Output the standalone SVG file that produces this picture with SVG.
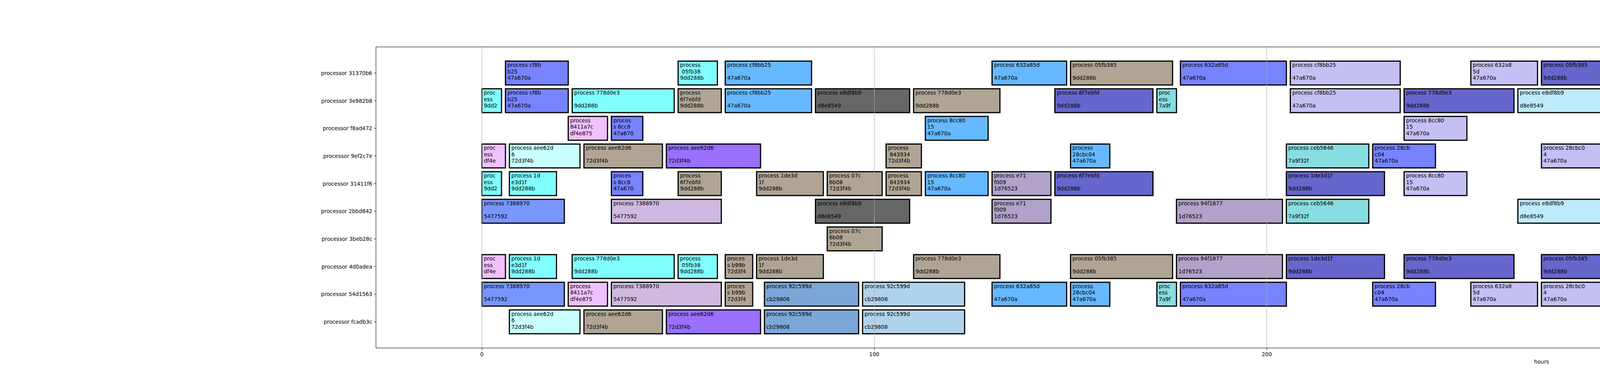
<svg xmlns="http://www.w3.org/2000/svg" width="7700" height="1000" viewBox="0 0 7700 1000">
<style>
text{font-family:"DejaVu Sans","Liberation Sans",sans-serif;font-size:13.6px;fill:#000}
.b{stroke:#000;stroke-width:3}
.cy{fill:#80ffff}.lc{fill:#c8ffff}.pk{fill:#f0c0ff}.pw{fill:#7783ff}.pb{fill:#7896ff}
.sk{fill:#66b8ff}.tn{fill:#b0a595}.dg{fill:#666666}.sl{fill:#6666cc}.tl{fill:#88dde0}
.pu{fill:#9970ff}.lg{fill:#b0a2c8}.th{fill:#d0b9e0}.lv{fill:#c4c0f4}.lb{fill:#beebfc}
.bl{fill:#7a8ef0}.pl{fill:#e0c0e0}.st{fill:#7ba7d8}.ls{fill:#b0d3ec}
.yl{text-anchor:end}.xl{text-anchor:middle}
.grid line{stroke:#b0b0b0;stroke-width:1.1}
.tick line{stroke:#000;stroke-width:1.1}
</style>
<rect width="7700" height="1000" fill="#fff"/>
<rect x="962.5" y="120" width="5967.5" height="770" fill="#fff"/>

<g id="row0" transform="translate(0,186.8)">
<g id="r0b1" transform="translate(1294.0,0)"><rect class="b pw" y="-30.5" width="160.7" height="61"/><text x="5" y="-15.5">process cf8b<tspan x="5" y="1">b25</tspan><tspan x="5" y="17.5">47a670a</tspan></text></g>
<g id="r0b2" transform="translate(1736.0,0)"><rect class="b cy" y="-30.5" width="100.5" height="61"/><text x="5" y="-15.5">process<tspan x="5" y="1">&#160;05fb38</tspan><tspan x="5" y="17.5">9dd288b</tspan></text></g>
<g id="r0b3" transform="translate(1856.6,0)"><rect class="b sk" y="-30.5" width="221.0" height="61"/><text x="5" y="-15.5">process cf8bb25<tspan x="5" y="17.5">47a670a</tspan></text></g>
<g id="r0b4" transform="translate(2539.7,0)"><rect class="b sk" y="-30.5" width="190.9" height="61"/><text x="5" y="-15.5">process 632a85d<tspan x="5" y="17.5">47a670a</tspan></text></g>
<g id="r0b5" transform="translate(2740.6,0)"><rect class="b tn" y="-30.5" width="261.2" height="61"/><text x="5" y="-15.5">process 05fb385<tspan x="5" y="17.5">9dd288b</tspan></text></g>
<g id="r0b6" transform="translate(3021.9,0)"><rect class="b pw" y="-30.5" width="271.2" height="61"/><text x="5" y="-15.5">process 632a85d<tspan x="5" y="17.5">47a670a</tspan></text></g>
<g id="r0b7" transform="translate(3303.2,0)"><rect class="b lv" y="-30.5" width="281.3" height="61"/><text x="5" y="-15.5">process cf8bb25<tspan x="5" y="17.5">47a670a</tspan></text></g>
<g id="r0b8" transform="translate(3765.3,0)"><rect class="b lv" y="-30.5" width="170.8" height="61"/><text x="5" y="-15.5">process 632a8<tspan x="5" y="1">5d</tspan><tspan x="5" y="17.5">47a670a</tspan></text></g>
<g id="r0b9" transform="translate(3946.1,0)"><rect class="b sl" y="-30.5" width="190.9" height="61"/><text x="5" y="-15.5">process 05fb385<tspan x="5" y="17.5">9dd288b</tspan></text></g>
<g id="r0b10" transform="translate(4147.0,0)"><rect class="b lb" y="-30.5" width="80.4" height="61"/><text x="5" y="-15.5">proces<tspan x="5" y="1">s afe0</tspan><tspan x="5" y="17.5">d8e854</tspan></text></g>
<g id="r0b11" transform="translate(4237.5,0)"><rect class="b tl" y="-30.5" width="271.2" height="61"/><text x="5" y="-15.5">process c97a152<tspan x="5" y="17.5">7a9f32f</tspan></text></g>
<g id="r0b12" transform="translate(4729.7,0)"><rect class="b lb" y="-30.5" width="180.8" height="61"/><text x="5" y="-15.5">process 5e7ca2<tspan x="5" y="1">0</tspan><tspan x="5" y="17.5">d8e8549</tspan></text></g>
<g id="r0b13" transform="translate(4920.6,0)"><rect class="b lb" y="-30.5" width="70.3" height="61"/><text x="5" y="-15.5">proces<tspan x="5" y="1">s 03ac</tspan><tspan x="5" y="17.5">d8e854</tspan></text></g>
<g id="r0b14" transform="translate(5031.1,0)"><rect class="b dg" y="-30.5" width="221.0" height="61"/><text x="5" y="-15.5">process afe0374<tspan x="5" y="17.5">d8e8549</tspan></text></g>
<g id="r0b15" transform="translate(5412.8,0)"><rect class="b dg" y="-30.5" width="110.5" height="61"/><text x="5" y="-15.5">process<tspan x="5" y="1">5e7ca20</tspan><tspan x="5" y="17.5">d8e8549</tspan></text></g>
<g id="r0b16" transform="translate(5533.4,0)"><rect class="b dg" y="-30.5" width="241.1" height="61"/><text x="5" y="-15.5">process 03ac337<tspan x="5" y="17.5">d8e8549</tspan></text></g>
</g>

<g id="row1" transform="translate(0,257.5)">
<g id="r1b1" transform="translate(1233.7,0)"><rect class="b cy" y="-30.5" width="50.2" height="61"/><text x="5" y="-15.5">proc<tspan x="5" y="1">ess</tspan><tspan x="5" y="17.5">9dd2</tspan></text></g>
<g id="r1b2" transform="translate(1294.0,0)"><rect class="b pw" y="-30.5" width="160.7" height="61"/><text x="5" y="-15.5">process cf8b<tspan x="5" y="1">b25</tspan><tspan x="5" y="17.5">47a670a</tspan></text></g>
<g id="r1b3" transform="translate(1464.8,0)"><rect class="b cy" y="-30.5" width="261.2" height="61"/><text x="5" y="-15.5">process 778d0e3<tspan x="5" y="17.5">9dd288b</tspan></text></g>
<g id="r1b4" transform="translate(1736.0,0)"><rect class="b tn" y="-30.5" width="110.5" height="61"/><text x="5" y="-15.5">process<tspan x="5" y="1">6f7ebfd</tspan><tspan x="5" y="17.5">9dd288b</tspan></text></g>
<g id="r1b5" transform="translate(1856.6,0)"><rect class="b sk" y="-30.5" width="221.0" height="61"/><text x="5" y="-15.5">process cf8bb25<tspan x="5" y="17.5">47a670a</tspan></text></g>
<g id="r1b6" transform="translate(2087.6,0)"><rect class="b dg" y="-30.5" width="241.1" height="61"/><text x="5" y="-15.5">process e8df8b9<tspan x="5" y="17.5">d8e8549</tspan></text></g>
<g id="r1b7" transform="translate(2338.8,0)"><rect class="b tn" y="-30.5" width="221.0" height="61"/><text x="5" y="-15.5">process 778d0e3<tspan x="5" y="17.5">9dd288b</tspan></text></g>
<g id="r1b8" transform="translate(2700.4,0)"><rect class="b sl" y="-30.5" width="251.2" height="61"/><text x="5" y="-15.5">process 6f7ebfd<tspan x="5" y="17.5">9dd288b</tspan></text></g>
<g id="r1b9" transform="translate(2961.6,0)"><rect class="b tl" y="-30.5" width="50.2" height="61"/><text x="5" y="-15.5">proc<tspan x="5" y="1">ess</tspan><tspan x="5" y="17.5">7a9f</tspan></text></g>
<g id="r1b10" transform="translate(3303.2,0)"><rect class="b lv" y="-30.5" width="281.3" height="61"/><text x="5" y="-15.5">process cf8bb25<tspan x="5" y="17.5">47a670a</tspan></text></g>
<g id="r1b11" transform="translate(3594.5,0)"><rect class="b sl" y="-30.5" width="281.3" height="61"/><text x="5" y="-15.5">process 778d0e3<tspan x="5" y="17.5">9dd288b</tspan></text></g>
<g id="r1b12" transform="translate(3885.8,0)"><rect class="b lb" y="-30.5" width="241.1" height="61"/><text x="5" y="-15.5">process e8df8b9<tspan x="5" y="17.5">d8e8549</tspan></text></g>
<g id="r1b13" transform="translate(4137.0,0)"><rect class="b bl" y="-30.5" width="281.3" height="61"/><text x="5" y="-15.5">process 6bbf584<tspan x="5" y="17.5">6b3ecd9</tspan></text></g>
<g id="r1b14" transform="translate(4428.3,0)"><rect class="b pl" y="-30.5" width="291.3" height="61"/><text x="5" y="-15.5">process 6bbf584<tspan x="5" y="17.5">6b3ecd9</tspan></text></g>
<g id="r1b15" transform="translate(4920.6,0)"><rect class="b lb" y="-30.5" width="70.3" height="61"/><text x="5" y="-15.5">proces<tspan x="5" y="1">s 03ac</tspan><tspan x="5" y="17.5">d8e854</tspan></text></g>
<g id="r1b16" transform="translate(5533.4,0)"><rect class="b dg" y="-30.5" width="241.1" height="61"/><text x="5" y="-15.5">process 03ac337<tspan x="5" y="17.5">d8e8549</tspan></text></g>
</g>

<g id="row2" transform="translate(0,328.2)">
<g id="r2b1" transform="translate(1454.7,0)"><rect class="b pk" y="-30.5" width="100.5" height="61"/><text x="5" y="-15.5">process<tspan x="5" y="1">8411a7c</tspan><tspan x="5" y="17.5">df4e875</tspan></text></g>
<g id="r2b2" transform="translate(1565.2,0)"><rect class="b pw" y="-30.5" width="80.4" height="61"/><text x="5" y="-15.5">proces<tspan x="5" y="1">s 8cc8</tspan><tspan x="5" y="17.5">47a670</tspan></text></g>
<g id="r2b3" transform="translate(2368.9,0)"><rect class="b sk" y="-30.5" width="160.7" height="61"/><text x="5" y="-15.5">process 8cc80<tspan x="5" y="1">15</tspan><tspan x="5" y="17.5">47a670a</tspan></text></g>
<g id="r2b4" transform="translate(3594.5,0)"><rect class="b lv" y="-30.5" width="160.7" height="61"/><text x="5" y="-15.5">process 8cc80<tspan x="5" y="1">15</tspan><tspan x="5" y="17.5">47a670a</tspan></text></g>
<g id="r2b5" transform="translate(5031.1,0)"><rect class="b tl" y="-30.5" width="200.9" height="61"/><text x="5" y="-15.5">process 2b3a503<tspan x="5" y="17.5">7a9f32f</tspan></text></g>
</g>

<g id="row3" transform="translate(0,398.9)">
<g id="r3b1" transform="translate(1233.7,0)"><rect class="b pk" y="-30.5" width="60.3" height="61"/><text x="5" y="-15.5">proc<tspan x="5" y="1">ess</tspan><tspan x="5" y="17.5">df4e</tspan></text></g>
<g id="r3b2" transform="translate(1304.0,0)"><rect class="b lc" y="-30.5" width="180.8" height="61"/><text x="5" y="-15.5">process aee62d<tspan x="5" y="1">6</tspan><tspan x="5" y="17.5">72d3f4b</tspan></text></g>
<g id="r3b3" transform="translate(1494.9,0)"><rect class="b tn" y="-30.5" width="200.9" height="61"/><text x="5" y="-15.5">process aee62d6<tspan x="5" y="17.5">72d3f4b</tspan></text></g>
<g id="r3b4" transform="translate(1705.9,0)"><rect class="b pu" y="-30.5" width="241.1" height="61"/><text x="5" y="-15.5">process aee62d6<tspan x="5" y="17.5">72d3f4b</tspan></text></g>
<g id="r3b5" transform="translate(2268.4,0)"><rect class="b tn" y="-30.5" width="90.4" height="61"/><text x="5" y="-15.5">process<tspan x="5" y="1">&#160;843934</tspan><tspan x="5" y="17.5">72d3f4b</tspan></text></g>
<g id="r3b6" transform="translate(2740.6,0)"><rect class="b sk" y="-30.5" width="100.5" height="61"/><text x="5" y="-15.5">process<tspan x="5" y="1">28cbc04</tspan><tspan x="5" y="17.5">47a670a</tspan></text></g>
<g id="r3b7" transform="translate(3293.1,0)"><rect class="b tl" y="-30.5" width="211.0" height="61"/><text x="5" y="-15.5">process ceb5646<tspan x="5" y="17.5">7a9f32f</tspan></text></g>
<g id="r3b8" transform="translate(3514.1,0)"><rect class="b pw" y="-30.5" width="160.7" height="61"/><text x="5" y="-15.5">process 28cb<tspan x="5" y="1">c04</tspan><tspan x="5" y="17.5">47a670a</tspan></text></g>
<g id="r3b9" transform="translate(3946.1,0)"><rect class="b lv" y="-30.5" width="180.8" height="61"/><text x="5" y="-15.5">process 28cbc0<tspan x="5" y="1">4</tspan><tspan x="5" y="17.5">47a670a</tspan></text></g>
<g id="r3b10" transform="translate(4237.5,0)"><rect class="b lb" y="-30.5" width="190.9" height="61"/><text x="5" y="-15.5">process 614eb89<tspan x="5" y="17.5">d8e8549</tspan></text></g>
<g id="r3b11" transform="translate(5262.1,0)"><rect class="b dg" y="-30.5" width="140.6" height="61"/><text x="5" y="-15.5">process 614<tspan x="5" y="1">eb89</tspan><tspan x="5" y="17.5">d8e8549</tspan></text></g>
<g id="r3b12" transform="translate(5412.8,0)"><rect class="b lc" y="-30.5" width="271.2" height="61"/><text x="5" y="-15.5">process 8439341<tspan x="5" y="17.5">72d3f4b</tspan></text></g>
<g id="r3b13" transform="translate(5824.7,0)"><rect class="b pu" y="-30.5" width="271.2" height="61"/><text x="5" y="-15.5">process 8439341<tspan x="5" y="17.5">72d3f4b</tspan></text></g>
</g>

<g id="row4" transform="translate(0,469.6)">
<g id="r4b1" transform="translate(1233.7,0)"><rect class="b cy" y="-30.5" width="50.2" height="61"/><text x="5" y="-15.5">proc<tspan x="5" y="1">ess</tspan><tspan x="5" y="17.5">9dd2</tspan></text></g>
<g id="r4b2" transform="translate(1304.0,0)"><rect class="b cy" y="-30.5" width="120.6" height="61"/><text x="5" y="-15.5">process 1d<tspan x="5" y="1">e3d1f</tspan><tspan x="5" y="17.5">9dd288b</tspan></text></g>
<g id="r4b3" transform="translate(1565.2,0)"><rect class="b pw" y="-30.5" width="80.4" height="61"/><text x="5" y="-15.5">proces<tspan x="5" y="1">s 8cc8</tspan><tspan x="5" y="17.5">47a670</tspan></text></g>
<g id="r4b4" transform="translate(1736.0,0)"><rect class="b tn" y="-30.5" width="110.5" height="61"/><text x="5" y="-15.5">process<tspan x="5" y="1">6f7ebfd</tspan><tspan x="5" y="17.5">9dd288b</tspan></text></g>
<g id="r4b5" transform="translate(1936.9,0)"><rect class="b tn" y="-30.5" width="170.8" height="61"/><text x="5" y="-15.5">process 1de3d<tspan x="5" y="1">1f</tspan><tspan x="5" y="17.5">9dd288b</tspan></text></g>
<g id="r4b6" transform="translate(2117.7,0)"><rect class="b tn" y="-30.5" width="140.6" height="61"/><text x="5" y="-15.5">process 07c<tspan x="5" y="1">6b08</tspan><tspan x="5" y="17.5">72d3f4b</tspan></text></g>
<g id="r4b7" transform="translate(2268.4,0)"><rect class="b tn" y="-30.5" width="90.4" height="61"/><text x="5" y="-15.5">process<tspan x="5" y="1">&#160;843934</tspan><tspan x="5" y="17.5">72d3f4b</tspan></text></g>
<g id="r4b8" transform="translate(2368.9,0)"><rect class="b sk" y="-30.5" width="160.7" height="61"/><text x="5" y="-15.5">process 8cc80<tspan x="5" y="1">15</tspan><tspan x="5" y="17.5">47a670a</tspan></text></g>
<g id="r4b9" transform="translate(2539.7,0)"><rect class="b lg" y="-30.5" width="150.7" height="61"/><text x="5" y="-15.5">process e71<tspan x="5" y="1">f009</tspan><tspan x="5" y="17.5">1d76523</tspan></text></g>
<g id="r4b10" transform="translate(2700.4,0)"><rect class="b sl" y="-30.5" width="251.2" height="61"/><text x="5" y="-15.5">process 6f7ebfd<tspan x="5" y="17.5">9dd288b</tspan></text></g>
<g id="r4b11" transform="translate(3293.1,0)"><rect class="b sl" y="-30.5" width="251.2" height="61"/><text x="5" y="-15.5">process 1de3d1f<tspan x="5" y="17.5">9dd288b</tspan></text></g>
<g id="r4b12" transform="translate(3594.5,0)"><rect class="b lv" y="-30.5" width="160.7" height="61"/><text x="5" y="-15.5">process 8cc80<tspan x="5" y="1">15</tspan><tspan x="5" y="17.5">47a670a</tspan></text></g>
<g id="r4b13" transform="translate(4237.5,0)"><rect class="b tl" y="-30.5" width="271.2" height="61"/><text x="5" y="-15.5">process c97a152<tspan x="5" y="17.5">7a9f32f</tspan></text></g>
<g id="r4b14" transform="translate(5031.1,0)"><rect class="b lc" y="-30.5" width="251.2" height="61"/><text x="5" y="-15.5">process 07c6b08<tspan x="5" y="17.5">72d3f4b</tspan></text></g>
<g id="r4b15" transform="translate(5412.8,0)"><rect class="b lc" y="-30.5" width="271.2" height="61"/><text x="5" y="-15.5">process 8439341<tspan x="5" y="17.5">72d3f4b</tspan></text></g>
<g id="r4b16" transform="translate(5744.4,0)"><rect class="b pu" y="-30.5" width="70.3" height="61"/><text x="5" y="-15.5">proce<tspan x="5" y="1">ss 07</tspan><tspan x="5" y="17.5">72d3f</tspan></text></g>
<g id="r4b17" transform="translate(5824.7,0)"><rect class="b pu" y="-30.5" width="271.2" height="61"/><text x="5" y="-15.5">process 8439341<tspan x="5" y="17.5">72d3f4b</tspan></text></g>
<g id="r4b18" transform="translate(6106.0,0)"><rect class="b st" y="-30.5" width="271.2" height="61"/><text x="5" y="-15.5">process 2a43540<tspan x="5" y="17.5">cb29808</tspan></text></g>
<g id="r4b19" transform="translate(6387.3,0)"><rect class="b ls" y="-30.5" width="271.2" height="61"/><text x="5" y="-15.5">process 2a43540<tspan x="5" y="17.5">cb29808</tspan></text></g>
</g>

<g id="row5" transform="translate(0,540.3)">
<g id="r5b1" transform="translate(1233.7,0)"><rect class="b pb" y="-30.5" width="211.0" height="61"/><text x="5" y="-15.5">process 7388970<tspan x="5" y="17.5">5477592</tspan></text></g>
<g id="r5b2" transform="translate(1565.2,0)"><rect class="b th" y="-30.5" width="281.3" height="61"/><text x="5" y="-15.5">process 7388970<tspan x="5" y="17.5">5477592</tspan></text></g>
<g id="r5b3" transform="translate(2087.6,0)"><rect class="b dg" y="-30.5" width="241.1" height="61"/><text x="5" y="-15.5">process e8df8b9<tspan x="5" y="17.5">d8e8549</tspan></text></g>
<g id="r5b4" transform="translate(2539.7,0)"><rect class="b lg" y="-30.5" width="150.7" height="61"/><text x="5" y="-15.5">process e71<tspan x="5" y="1">f009</tspan><tspan x="5" y="17.5">1d76523</tspan></text></g>
<g id="r5b5" transform="translate(3011.8,0)"><rect class="b lg" y="-30.5" width="271.2" height="61"/><text x="5" y="-15.5">process 94f1877<tspan x="5" y="17.5">1d76523</tspan></text></g>
<g id="r5b6" transform="translate(3293.1,0)"><rect class="b tl" y="-30.5" width="211.0" height="61"/><text x="5" y="-15.5">process ceb5646<tspan x="5" y="17.5">7a9f32f</tspan></text></g>
<g id="r5b7" transform="translate(3885.8,0)"><rect class="b lb" y="-30.5" width="241.1" height="61"/><text x="5" y="-15.5">process e8df8b9<tspan x="5" y="17.5">d8e8549</tspan></text></g>
<g id="r5b8" transform="translate(4589.1,0)"><rect class="b st" y="-30.5" width="60.3" height="61"/><text x="5" y="-15.5">proce<tspan x="5" y="1">ss ae</tspan><tspan x="5" y="17.5">cb298</tspan></text></g>
<g id="r5b9" transform="translate(4749.8,0)"><rect class="b ls" y="-30.5" width="190.9" height="61"/><text x="5" y="-15.5">process ae8bbd<tspan x="5" y="1">f</tspan><tspan x="5" y="17.5">cb29808</tspan></text></g>
</g>

<g id="row6" transform="translate(0,611.0)">
<g id="r6b1" transform="translate(2117.7,0)"><rect class="b tn" y="-30.5" width="140.6" height="61"/><text x="5" y="-15.5">process 07c<tspan x="5" y="1">6b08</tspan><tspan x="5" y="17.5">72d3f4b</tspan></text></g>
<g id="r6b2" transform="translate(4438.4,0)"><rect class="b st" y="-30.5" width="140.6" height="61"/><text x="5" y="-15.5">process f1d<tspan x="5" y="1">36a9</tspan><tspan x="5" y="17.5">cb29808</tspan></text></g>
<g id="r6b3" transform="translate(4589.1,0)"><rect class="b ls" y="-30.5" width="150.7" height="61"/><text x="5" y="-15.5">process f1d3<tspan x="5" y="1">6a9</tspan><tspan x="5" y="17.5">cb29808</tspan></text></g>
<g id="r6b4" transform="translate(5031.1,0)"><rect class="b lc" y="-30.5" width="251.2" height="61"/><text x="5" y="-15.5">process 07c6b08<tspan x="5" y="17.5">72d3f4b</tspan></text></g>
<g id="r6b5" transform="translate(5744.4,0)"><rect class="b pu" y="-30.5" width="70.3" height="61"/><text x="5" y="-15.5">proce<tspan x="5" y="1">ss 07</tspan><tspan x="5" y="17.5">72d3f</tspan></text></g>
</g>

<g id="row7" transform="translate(0,681.7)">
<g id="r7b1" transform="translate(1233.7,0)"><rect class="b pk" y="-30.5" width="60.3" height="61"/><text x="5" y="-15.5">proc<tspan x="5" y="1">ess</tspan><tspan x="5" y="17.5">df4e</tspan></text></g>
<g id="r7b2" transform="translate(1304.0,0)"><rect class="b cy" y="-30.5" width="120.6" height="61"/><text x="5" y="-15.5">process 1d<tspan x="5" y="1">e3d1f</tspan><tspan x="5" y="17.5">9dd288b</tspan></text></g>
<g id="r7b3" transform="translate(1464.8,0)"><rect class="b cy" y="-30.5" width="261.2" height="61"/><text x="5" y="-15.5">process 778d0e3<tspan x="5" y="17.5">9dd288b</tspan></text></g>
<g id="r7b4" transform="translate(1736.0,0)"><rect class="b cy" y="-30.5" width="100.5" height="61"/><text x="5" y="-15.5">process<tspan x="5" y="1">&#160;05fb38</tspan><tspan x="5" y="17.5">9dd288b</tspan></text></g>
<g id="r7b5" transform="translate(1856.6,0)"><rect class="b tn" y="-30.5" width="70.3" height="61"/><text x="5" y="-15.5">proces<tspan x="5" y="1">s b99b</tspan><tspan x="5" y="17.5">72d3f4</tspan></text></g>
<g id="r7b6" transform="translate(1936.9,0)"><rect class="b tn" y="-30.5" width="170.8" height="61"/><text x="5" y="-15.5">process 1de3d<tspan x="5" y="1">1f</tspan><tspan x="5" y="17.5">9dd288b</tspan></text></g>
<g id="r7b7" transform="translate(2338.8,0)"><rect class="b tn" y="-30.5" width="221.0" height="61"/><text x="5" y="-15.5">process 778d0e3<tspan x="5" y="17.5">9dd288b</tspan></text></g>
<g id="r7b8" transform="translate(2740.6,0)"><rect class="b tn" y="-30.5" width="261.2" height="61"/><text x="5" y="-15.5">process 05fb385<tspan x="5" y="17.5">9dd288b</tspan></text></g>
<g id="r7b9" transform="translate(3011.8,0)"><rect class="b lg" y="-30.5" width="271.2" height="61"/><text x="5" y="-15.5">process 94f1877<tspan x="5" y="17.5">1d76523</tspan></text></g>
<g id="r7b10" transform="translate(3293.1,0)"><rect class="b sl" y="-30.5" width="251.2" height="61"/><text x="5" y="-15.5">process 1de3d1f<tspan x="5" y="17.5">9dd288b</tspan></text></g>
<g id="r7b11" transform="translate(3594.5,0)"><rect class="b sl" y="-30.5" width="281.3" height="61"/><text x="5" y="-15.5">process 778d0e3<tspan x="5" y="17.5">9dd288b</tspan></text></g>
<g id="r7b12" transform="translate(3946.1,0)"><rect class="b sl" y="-30.5" width="190.9" height="61"/><text x="5" y="-15.5">process 05fb385<tspan x="5" y="17.5">9dd288b</tspan></text></g>
<g id="r7b13" transform="translate(4147.0,0)"><rect class="b lb" y="-30.5" width="80.4" height="61"/><text x="5" y="-15.5">proces<tspan x="5" y="1">s afe0</tspan><tspan x="5" y="17.5">d8e854</tspan></text></g>
<g id="r7b14" transform="translate(4237.5,0)"><rect class="b lb" y="-30.5" width="190.9" height="61"/><text x="5" y="-15.5">process 614eb89<tspan x="5" y="17.5">d8e8549</tspan></text></g>
<g id="r7b15" transform="translate(4438.4,0)"><rect class="b st" y="-30.5" width="140.6" height="61"/><text x="5" y="-15.5">process f1d<tspan x="5" y="1">36a9</tspan><tspan x="5" y="17.5">cb29808</tspan></text></g>
<g id="r7b16" transform="translate(4589.1,0)"><rect class="b ls" y="-30.5" width="150.7" height="61"/><text x="5" y="-15.5">process f1d3<tspan x="5" y="1">6a9</tspan><tspan x="5" y="17.5">cb29808</tspan></text></g>
<g id="r7b17" transform="translate(4920.6,0)"><rect class="b lc" y="-30.5" width="100.5" height="61"/><text x="5" y="-15.5">process<tspan x="5" y="1">b99bb43</tspan><tspan x="5" y="17.5">72d3f4b</tspan></text></g>
<g id="r7b18" transform="translate(5031.1,0)"><rect class="b dg" y="-30.5" width="221.0" height="61"/><text x="5" y="-15.5">process afe0374<tspan x="5" y="17.5">d8e8549</tspan></text></g>
<g id="r7b19" transform="translate(5262.1,0)"><rect class="b dg" y="-30.5" width="140.6" height="61"/><text x="5" y="-15.5">process 614<tspan x="5" y="1">eb89</tspan><tspan x="5" y="17.5">d8e8549</tspan></text></g>
<g id="r7b20" transform="translate(5533.4,0)"><rect class="b pu" y="-30.5" width="200.9" height="61"/><text x="5" y="-15.5">process b99bb43<tspan x="5" y="17.5">72d3f4b</tspan></text></g>
</g>

<g id="row8" transform="translate(0,752.4)">
<g id="r8b1" transform="translate(1233.7,0)"><rect class="b pb" y="-30.5" width="211.0" height="61"/><text x="5" y="-15.5">process 7388970<tspan x="5" y="17.5">5477592</tspan></text></g>
<g id="r8b2" transform="translate(1454.7,0)"><rect class="b pk" y="-30.5" width="100.5" height="61"/><text x="5" y="-15.5">process<tspan x="5" y="1">8411a7c</tspan><tspan x="5" y="17.5">df4e875</tspan></text></g>
<g id="r8b3" transform="translate(1565.2,0)"><rect class="b th" y="-30.5" width="281.3" height="61"/><text x="5" y="-15.5">process 7388970<tspan x="5" y="17.5">5477592</tspan></text></g>
<g id="r8b4" transform="translate(1856.6,0)"><rect class="b tn" y="-30.5" width="70.3" height="61"/><text x="5" y="-15.5">proces<tspan x="5" y="1">s b99b</tspan><tspan x="5" y="17.5">72d3f4</tspan></text></g>
<g id="r8b5" transform="translate(1957.0,0)"><rect class="b st" y="-30.5" width="241.1" height="61"/><text x="5" y="-15.5">process 92c599d<tspan x="5" y="17.5">cb29808</tspan></text></g>
<g id="r8b6" transform="translate(2208.2,0)"><rect class="b ls" y="-30.5" width="261.2" height="61"/><text x="5" y="-15.5">process 92c599d<tspan x="5" y="17.5">cb29808</tspan></text></g>
<g id="r8b7" transform="translate(2539.7,0)"><rect class="b sk" y="-30.5" width="190.9" height="61"/><text x="5" y="-15.5">process 632a85d<tspan x="5" y="17.5">47a670a</tspan></text></g>
<g id="r8b8" transform="translate(2740.6,0)"><rect class="b sk" y="-30.5" width="100.5" height="61"/><text x="5" y="-15.5">process<tspan x="5" y="1">28cbc04</tspan><tspan x="5" y="17.5">47a670a</tspan></text></g>
<g id="r8b9" transform="translate(2961.6,0)"><rect class="b tl" y="-30.5" width="50.2" height="61"/><text x="5" y="-15.5">proc<tspan x="5" y="1">ess</tspan><tspan x="5" y="17.5">7a9f</tspan></text></g>
<g id="r8b10" transform="translate(3021.9,0)"><rect class="b pw" y="-30.5" width="271.2" height="61"/><text x="5" y="-15.5">process 632a85d<tspan x="5" y="17.5">47a670a</tspan></text></g>
<g id="r8b11" transform="translate(3514.1,0)"><rect class="b pw" y="-30.5" width="160.7" height="61"/><text x="5" y="-15.5">process 28cb<tspan x="5" y="1">c04</tspan><tspan x="5" y="17.5">47a670a</tspan></text></g>
<g id="r8b12" transform="translate(3765.3,0)"><rect class="b lv" y="-30.5" width="170.8" height="61"/><text x="5" y="-15.5">process 632a8<tspan x="5" y="1">5d</tspan><tspan x="5" y="17.5">47a670a</tspan></text></g>
<g id="r8b13" transform="translate(3946.1,0)"><rect class="b lv" y="-30.5" width="180.8" height="61"/><text x="5" y="-15.5">process 28cbc0<tspan x="5" y="1">4</tspan><tspan x="5" y="17.5">47a670a</tspan></text></g>
<g id="r8b14" transform="translate(4137.0,0)"><rect class="b bl" y="-30.5" width="281.3" height="61"/><text x="5" y="-15.5">process 6bbf584<tspan x="5" y="17.5">6b3ecd9</tspan></text></g>
<g id="r8b15" transform="translate(4428.3,0)"><rect class="b pl" y="-30.5" width="291.3" height="61"/><text x="5" y="-15.5">process 6bbf584<tspan x="5" y="17.5">6b3ecd9</tspan></text></g>
<g id="r8b16" transform="translate(4729.7,0)"><rect class="b lb" y="-30.5" width="180.8" height="61"/><text x="5" y="-15.5">process 5e7ca2<tspan x="5" y="1">0</tspan><tspan x="5" y="17.5">d8e8549</tspan></text></g>
<g id="r8b17" transform="translate(4920.6,0)"><rect class="b lc" y="-30.5" width="100.5" height="61"/><text x="5" y="-15.5">process<tspan x="5" y="1">b99bb43</tspan><tspan x="5" y="17.5">72d3f4b</tspan></text></g>
<g id="r8b18" transform="translate(5031.1,0)"><rect class="b tl" y="-30.5" width="200.9" height="61"/><text x="5" y="-15.5">process 2b3a503<tspan x="5" y="17.5">7a9f32f</tspan></text></g>
<g id="r8b19" transform="translate(5412.8,0)"><rect class="b dg" y="-30.5" width="110.5" height="61"/><text x="5" y="-15.5">process<tspan x="5" y="1">5e7ca20</tspan><tspan x="5" y="17.5">d8e8549</tspan></text></g>
<g id="r8b20" transform="translate(5533.4,0)"><rect class="b pu" y="-30.5" width="200.9" height="61"/><text x="5" y="-15.5">process b99bb43<tspan x="5" y="17.5">72d3f4b</tspan></text></g>
<g id="r8b21" transform="translate(6106.0,0)"><rect class="b st" y="-30.5" width="271.2" height="61"/><text x="5" y="-15.5">process 2a43540<tspan x="5" y="17.5">cb29808</tspan></text></g>
<g id="r8b22" transform="translate(6387.3,0)"><rect class="b ls" y="-30.5" width="271.2" height="61"/><text x="5" y="-15.5">process 2a43540<tspan x="5" y="17.5">cb29808</tspan></text></g>
</g>

<g id="row9" transform="translate(0,823.1)">
<g id="r9b1" transform="translate(1304.0,0)"><rect class="b lc" y="-30.5" width="180.8" height="61"/><text x="5" y="-15.5">process aee62d<tspan x="5" y="1">6</tspan><tspan x="5" y="17.5">72d3f4b</tspan></text></g>
<g id="r9b2" transform="translate(1494.9,0)"><rect class="b tn" y="-30.5" width="200.9" height="61"/><text x="5" y="-15.5">process aee62d6<tspan x="5" y="17.5">72d3f4b</tspan></text></g>
<g id="r9b3" transform="translate(1705.9,0)"><rect class="b pu" y="-30.5" width="241.1" height="61"/><text x="5" y="-15.5">process aee62d6<tspan x="5" y="17.5">72d3f4b</tspan></text></g>
<g id="r9b4" transform="translate(1957.0,0)"><rect class="b st" y="-30.5" width="241.1" height="61"/><text x="5" y="-15.5">process 92c599d<tspan x="5" y="17.5">cb29808</tspan></text></g>
<g id="r9b5" transform="translate(2208.2,0)"><rect class="b ls" y="-30.5" width="261.2" height="61"/><text x="5" y="-15.5">process 92c599d<tspan x="5" y="17.5">cb29808</tspan></text></g>
<g id="r9b6" transform="translate(4589.1,0)"><rect class="b st" y="-30.5" width="60.3" height="61"/><text x="5" y="-15.5">proce<tspan x="5" y="1">ss ae</tspan><tspan x="5" y="17.5">cb298</tspan></text></g>
<g id="r9b7" transform="translate(4749.8,0)"><rect class="b ls" y="-30.5" width="190.9" height="61"/><text x="5" y="-15.5">process ae8bbd<tspan x="5" y="1">f</tspan><tspan x="5" y="17.5">cb29808</tspan></text></g>
</g>

<g id="grid" class="grid">
<line x1="1233.7" y1="120" x2="1233.7" y2="890"/>
<line x1="2238.3" y1="120" x2="2238.3" y2="890"/>
<line x1="3242.9" y1="120" x2="3242.9" y2="890"/>
<line x1="4247.5" y1="120" x2="4247.5" y2="890"/>
<line x1="5252.1" y1="120" x2="5252.1" y2="890"/>
<line x1="6256.7" y1="120" x2="6256.7" y2="890"/>
</g>

<g id="axes">
<rect x="962.5" y="120" width="5967.5" height="770" fill="none" stroke="#000" stroke-width="1.1"/>
<g class="tick">
<line x1="1233.7" y1="890" x2="1233.7" y2="894.9"/>
<line x1="2238.3" y1="890" x2="2238.3" y2="894.9"/>
<line x1="3242.9" y1="890" x2="3242.9" y2="894.9"/>
<line x1="4247.5" y1="890" x2="4247.5" y2="894.9"/>
<line x1="5252.1" y1="890" x2="5252.1" y2="894.9"/>
<line x1="6256.7" y1="890" x2="6256.7" y2="894.9"/>
<line x1="957.6" y1="186.8" x2="962.5" y2="186.8"/>
<line x1="957.6" y1="257.5" x2="962.5" y2="257.5"/>
<line x1="957.6" y1="328.2" x2="962.5" y2="328.2"/>
<line x1="957.6" y1="398.9" x2="962.5" y2="398.9"/>
<line x1="957.6" y1="469.6" x2="962.5" y2="469.6"/>
<line x1="957.6" y1="540.3" x2="962.5" y2="540.3"/>
<line x1="957.6" y1="611.0" x2="962.5" y2="611.0"/>
<line x1="957.6" y1="681.7" x2="962.5" y2="681.7"/>
<line x1="957.6" y1="752.4" x2="962.5" y2="752.4"/>
<line x1="957.6" y1="823.1" x2="962.5" y2="823.1"/>
</g>
<g id="xticklabels" class="xl">
<text x="1233.7" y="911">0</text>
<text x="2238.3" y="911">100</text>
<text x="3242.9" y="911">200</text>
<text x="4247.5" y="911">300</text>
<text x="5252.1" y="911">400</text>
<text x="6256.7" y="911">500</text>
<text x="3946.3" y="930">hours</text>
</g>
<g id="yticklabels" class="yl">
<text x="953" y="191.8">processor 31370b6</text>
<text x="953" y="262.5">processor 3e982b8</text>
<text x="953" y="333.2">processor f8ad472</text>
<text x="953" y="403.9">processor 9ef2c7e</text>
<text x="953" y="474.6">processor 31411f6</text>
<text x="953" y="545.3">processor 2bbd842</text>
<text x="953" y="616.0">processor 3beb28c</text>
<text x="953" y="686.7">processor 4d0adea</text>
<text x="953" y="757.4">processor 54d1563</text>
<text x="953" y="828.1">processor fcadb3c</text>
</g>
</g>
</svg>
